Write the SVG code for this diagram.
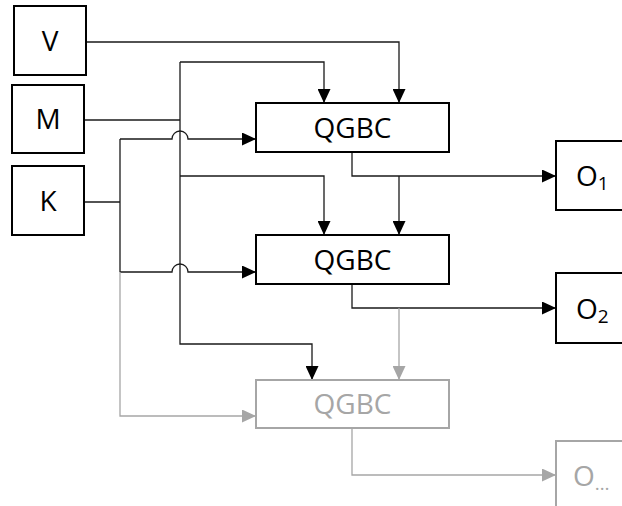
<svg xmlns="http://www.w3.org/2000/svg" width="622" height="506" viewBox="0 0 622 506">
  <defs>
    <style>
      .box { fill: #ffffff; stroke: #000000; stroke-width: 2; }
      .box.dim { stroke: #a6a6a6; }
      .lbl { font-family: "Open Sans", "Noto Sans", "DejaVu Sans", sans-serif; font-size: 28px; fill: #000000; text-anchor: middle; }
      .lbl.dim { fill: #a6a6a6; }
      .out { font-family: "Open Sans", "Noto Sans", "DejaVu Sans", sans-serif; font-size: 28px; fill: #000000; }
      .out.dim { fill: #a6a6a6; }
      .wire { fill: none; stroke: #1a1a1a; stroke-width: 1.3; }
      .wire.dim { stroke: #a6a6a6; }
    </style>
    <marker id="arr" markerUnits="userSpaceOnUse" markerWidth="14" markerHeight="13" refX="14" refY="6.5" orient="auto">
      <path d="M0,0 L14,6.5 L0,13 z" fill="#000000"/>
    </marker>
    <marker id="arrDim" markerUnits="userSpaceOnUse" markerWidth="14" markerHeight="13" refX="14" refY="6.5" orient="auto">
      <path d="M0,0 L14,6.5 L0,13 z" fill="#a6a6a6"/>
    </marker>
  </defs>

  <rect width="622" height="506" fill="#ffffff"/>

  <!-- connectors -->
  <g id="connectors">
    <!-- V into first block -->
    <path class="wire" d="M86,42 H399 V103" marker-end="url(#arr)"/>
    <!-- M bus: feeds each block from above -->
    <path class="wire" d="M84,120 H180"/>
    <path class="wire" d="M180,62 H324 V103" marker-end="url(#arr)"/>
    <path class="wire" d="M180,176 H324 V235" marker-end="url(#arr)"/>
    <path class="wire" d="M180,62 V344 H312 V380" marker-end="url(#arr)"/>
    <!-- K bus: feeds each block from the left, hopping over the M bus -->
    <path class="wire" d="M84,202 H120"/>
    <path class="wire" d="M120,139 V272"/>
    <path class="wire" d="M120,139 H172 A8,8 0 0 1 188,139 H256" marker-end="url(#arr)"/>
    <path class="wire" d="M120,272 H172 A8,8 0 0 1 188,272 H256" marker-end="url(#arr)"/>
    <path class="wire dim" d="M120,272 V416 H256" marker-end="url(#arrDim)"/>
    <!-- block outputs -->
    <path class="wire" d="M352,152 V176 H556" marker-end="url(#arr)"/>
    <path class="wire" d="M399,176 V235" marker-end="url(#arr)"/>
    <path class="wire" d="M352,284 V308 H556" marker-end="url(#arr)"/>
    <path class="wire dim" d="M399,308 V380" marker-end="url(#arrDim)"/>
    <path class="wire dim" d="M352,428 V475 H556" marker-end="url(#arrDim)"/>
  </g>

  <!-- inputs -->
  <g id="node-V">
    <rect class="box" x="14" y="6" width="72" height="69"/>
    <text class="lbl" x="50" y="50.5">V</text>
  </g>
  <g id="node-M">
    <rect class="box" x="12" y="85" width="72" height="68"/>
    <text class="lbl" x="48" y="129">M</text>
  </g>
  <g id="node-K">
    <rect class="box" x="12" y="166" width="72" height="69"/>
    <text class="lbl" x="48" y="210.5">K</text>
  </g>

  <!-- blocks -->
  <g id="node-qgbc1">
    <rect class="box" x="256" y="103" width="193" height="49"/>
    <text class="lbl" x="352.5" y="137.5">QGBC</text>
  </g>
  <g id="node-qgbc2">
    <rect class="box" x="256" y="235" width="193" height="49"/>
    <text class="lbl" x="352.5" y="269.5">QGBC</text>
  </g>
  <g id="node-qgbc3">
    <rect class="box dim" x="256" y="380" width="193" height="48"/>
    <text class="lbl dim" x="352.5" y="414">QGBC</text>
  </g>

  <!-- outputs -->
  <g id="node-O1">
    <rect class="box" x="556" y="141" width="80" height="69"/>
    <text class="out" x="576" y="185.5">O<tspan font-size="19" dy="4">1</tspan></text>
  </g>
  <g id="node-O2">
    <rect class="box" x="556" y="273" width="80" height="70"/>
    <text class="out" x="576" y="318.5">O<tspan font-size="19" dy="4">2</tspan></text>
  </g>
  <g id="node-On">
    <rect class="box dim" x="556" y="441" width="80" height="80"/>
    <text class="out dim" x="573" y="485.5">O<tspan font-size="19" dy="4">…</tspan></text>
  </g>
</svg>
